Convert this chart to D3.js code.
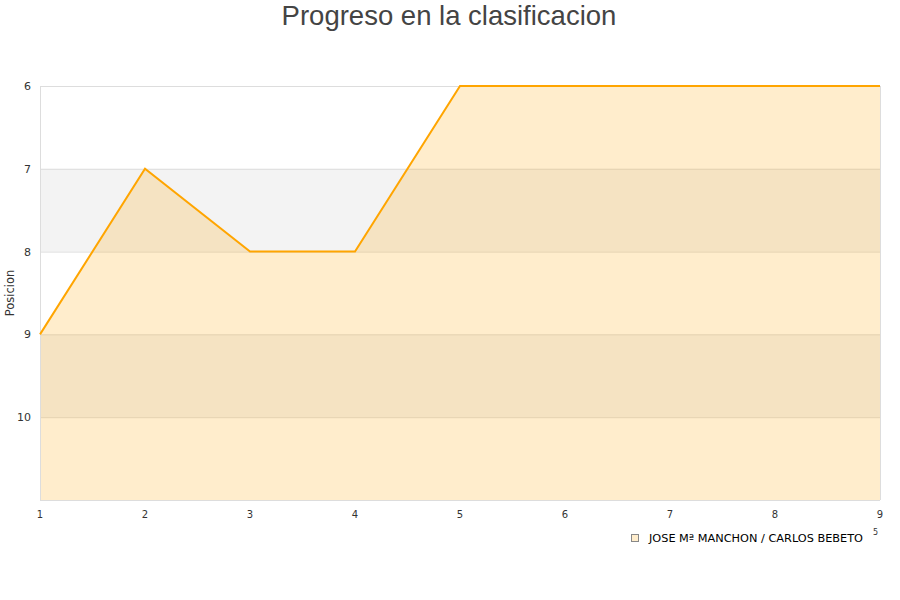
<!DOCTYPE html>
<html><head><meta charset="utf-8">
<script src="https://cdn.jsdelivr.net/npm/d3@7"></script>
<style>body{margin:0;background:#fff}svg{display:block}</style>
</head><body><svg id="c" width="900" height="600"></svg>
<script>
const jornadas = [1,2,3,4,5,6,7,8,9];
const posiciones = [9,7,8,8,6,6,6,6,6];
const yTicks = [6,7,8,9,10];
const seriesName = "JOSE Mª MANCHON / CARLOS BEBETO";
const title = "Progreso en la clasificacion";

const svg = d3.select("#c");
const m = {l:40, r:880, t:86, b:500};
const x = d3.scaleLinear().domain([1,9]).range([m.l, m.r]);
const y = d3.scaleLinear().domain([6,11]).range([m.t, m.b]);

// bands
[[7,8],[9,10]].forEach(([a,b])=>{
  svg.append("rect").attr("x",m.l).attr("width",m.r-m.l)
    .attr("y",y(a)).attr("height",y(b)-y(a)).attr("fill","#f3f3f3");
});
// grid
[6,7,8,9,10,11].forEach(v=>{
  svg.append("line").attr("x1",m.l).attr("x2",m.r).attr("y1",y(v)+0.5).attr("y2",y(v)+0.5)
    .attr("stroke","#dddddd").attr("stroke-width",1);
});
// area
const area = d3.area().x((d,i)=>x(jornadas[i])).y0(y(11)).y1(d=>y(d));
svg.append("path").datum(posiciones).attr("d",area).attr("fill","rgba(255,165,0,0.2)");
// frame
svg.append("line").attr("x1",m.l+0.5).attr("x2",m.l+0.5).attr("y1",m.t).attr("y2",m.b).attr("stroke","#dddddd");
svg.append("line").attr("x1",m.r+0.5).attr("x2",m.r+0.5).attr("y1",m.t).attr("y2",m.b).attr("stroke","#dddddd");
// line
const line = d3.line().x((d,i)=>x(jornadas[i])).y(d=>y(d));
svg.append("path").datum(posiciones).attr("d",line).attr("fill","none")
  .attr("stroke","#ffa500").attr("stroke-width",2);

// y ticks
svg.append("g").selectAll("text").data(yTicks).join("text")
  .attr("x",31).attr("y",d=>y(d)+4).attr("text-anchor","end")
  .attr("font-family","DejaVu Sans").attr("font-size",11).attr("fill","#333")
  .text(d=>d);
// x ticks
svg.append("g").selectAll("text").data(jornadas).join("text")
  .attr("x",d=>x(d)).attr("y",518).attr("text-anchor","middle")
  .attr("font-family","DejaVu Sans").attr("font-size",10).attr("fill","#333")
  .text(d=>d);
// y label
svg.append("text").attr("transform","translate(14,293) rotate(-90)")
  .attr("text-anchor","middle").attr("font-family","DejaVu Sans").attr("font-size",11.5)
  .attr("fill","#333").text("Posicion");
// title
svg.append("text").attr("x",449).attr("y",25).attr("text-anchor","middle")
  .attr("font-family","Liberation Sans").attr("font-size",27.5).attr("fill","#444").text(title);
// legend
svg.append("rect").attr("x",631.5).attr("y",534.5).attr("width",7).attr("height",7)
  .attr("fill","rgba(255,165,0,0.2)").attr("stroke","#888");
svg.append("text").attr("x",649).attr("y",542).attr("font-family","DejaVu Sans")
  .attr("font-size",11.3).attr("fill","#000").text(seriesName);
svg.append("text").attr("x",873).attr("y",535).attr("font-family","DejaVu Sans")
  .attr("font-size",8).attr("fill","#333").text("5");
</script></body></html>
